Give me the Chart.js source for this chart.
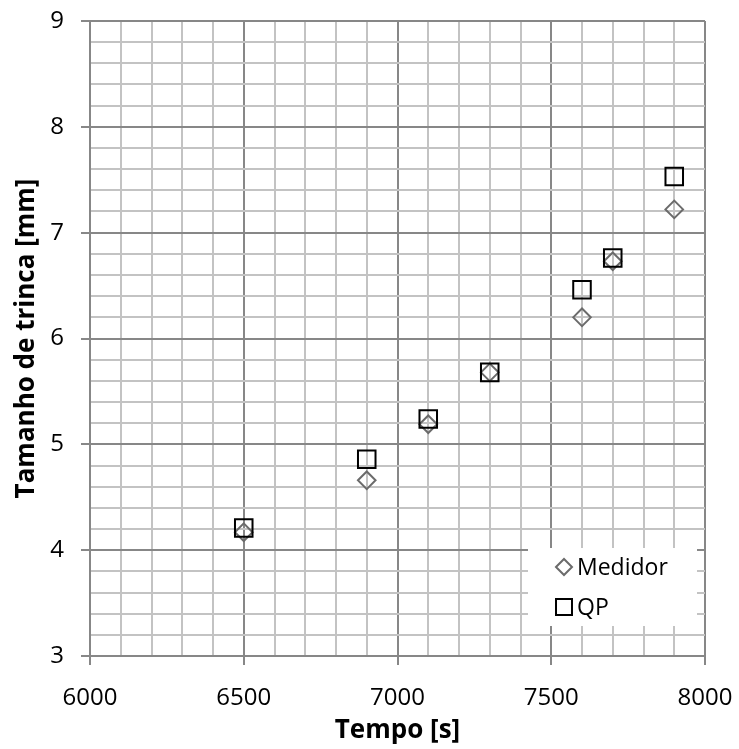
<!DOCTYPE html>
<html>
<head>
<meta charset="utf-8">
<script src="https://cdn.jsdelivr.net/npm/chart.js@4/dist/chart.umd.min.js"></script>
<style>
  html, body { margin: 0; padding: 0; background: #fff; }
  #wrap { width: 739px; height: 749px; }
</style>
</head>
<body>
<div id="wrap"><canvas id="c" width="739" height="749"></canvas></div>
<script>
const times = [6500, 6900, 7100, 7300, 7600, 7700, 7900];
const medidor = [4.17, 4.66, 5.19, 5.68, 6.20, 6.73, 7.22];
const qp = [4.21, 4.86, 5.24, 5.68, 6.46, 6.76, 7.53];
const seriesNames = ['Medidor', 'QP'];
const xTitle = 'Tempo [s]';
const yTitle = 'Tamanho de trinca [mm]';

const FONT = "'Open Sans', 'Noto Sans', sans-serif";
const MAJOR = '#878787';
const MINOR = '#c3c3c3';

function isMult(v, step) {
  const q = v / step;
  return Math.abs(q - Math.round(q)) < 1e-6;
}

const insideLegend = {
  id: 'insideLegend',
  afterDraw(chart) {
    const ctx = chart.ctx;
    ctx.save();
    ctx.fillStyle = '#ffffff';
    ctx.fillRect(528, 548, 169, 78);
    const items = [
      { ds: chart.data.datasets[0], y: 567, r: 8 },
      { ds: chart.data.datasets[1], y: 607, r: 11.3 }
    ];
    items.forEach(it => {
      ctx.strokeStyle = it.ds.borderColor;
      ctx.fillStyle = 'rgba(0,0,0,0)';
      ctx.lineWidth = 2;
      Chart.helpers.drawPoint(ctx, { pointStyle: it.ds.pointStyle, radius: it.r, borderWidth: 2 }, 564, it.y);
      ctx.fillStyle = '#000';
      ctx.font = '23px ' + FONT;
      ctx.textAlign = 'left';
      ctx.textBaseline = 'middle';
      ctx.fillText(it.ds.label, 577, it.y + 1);
    });
    ctx.restore();
  }
};

new Chart(document.getElementById('c'), {
  type: 'scatter',
  data: {
    datasets: [
      {
        label: seriesNames[0],
        data: times.map((t, i) => ({ x: t, y: medidor[i] })),
        pointStyle: 'rectRot',
        pointRadius: 8.8,
        pointHoverRadius: 8.8,
        borderColor: '#6b6b6b',
        backgroundColor: 'rgba(0,0,0,0)',
        pointBorderWidth: 2,
        order: 1
      },
      {
        label: seriesNames[1],
        data: times.map((t, i) => ({ x: t, y: qp[i] })),
        pointStyle: 'rect',
        pointRadius: 12.4,
        pointHoverRadius: 12.4,
        borderColor: '#000000',
        backgroundColor: 'rgba(0,0,0,0)',
        pointBorderWidth: 2,
        order: 0
      }
    ]
  },
  options: {
    responsive: false,
    animation: false,
    events: [],
    layout: { padding: { top: 21, right: 34, left: 0, bottom: 0 } },
    plugins: {
      legend: { display: false },
      tooltip: { enabled: false }
    },
    scales: {
      x: {
        type: 'linear',
        min: 6000,
        max: 8000,
        afterFit(s) { s.height = 93; s.paddingLeft = 0; s.paddingRight = 0; },
        ticks: {
          stepSize: 100,
          autoSkip: false,
          maxRotation: 0,
          padding: 19,
          color: '#000',
          font: { family: FONT, size: 24 },
          callback: v => isMult(v, 500) ? String(v) : ''
        },
        grid: {
          color: c => isMult(c.tick.value, 500) ? MAJOR : MINOR,
          lineWidth: 2,
          tickLength: 9,
          tickColor: c => isMult(c.tick.value, 500) ? MAJOR : 'rgba(0,0,0,0)',
          tickWidth: 2
        },
        border: { color: MAJOR, width: 2 },
        title: {
          display: true,
          text: xTitle,
          color: '#000',
          font: { family: FONT, size: 26, weight: 'bold', lineHeight: 1.2 },
          padding: { top: 0, bottom: 3 }
        }
      },
      y: {
        type: 'linear',
        min: 3,
        max: 9,
        afterFit(s) { s.width = 90; s.paddingTop = 0; s.paddingBottom = 0; },
        ticks: {
          stepSize: 0.2,
          autoSkip: false,
          padding: 17,
          color: '#000',
          font: { family: FONT, size: 24 },
          callback: v => isMult(v, 1) ? String(Math.round(v)) : ''
        },
        grid: {
          color: c => isMult(c.tick.value, 1) ? MAJOR : MINOR,
          lineWidth: 2,
          tickLength: 9,
          tickColor: c => isMult(c.tick.value, 1) ? MAJOR : 'rgba(0,0,0,0)',
          tickWidth: 2
        },
        border: { color: MAJOR, width: 2 },
        title: {
          display: true,
          text: yTitle,
          color: '#000',
          font: { family: FONT, size: 26, weight: 'bold', lineHeight: 1.2 },
          padding: { top: 11, bottom: 0 }
        }
      }
    }
  },
  plugins: [insideLegend]
});
</script>
</body>
</html>
